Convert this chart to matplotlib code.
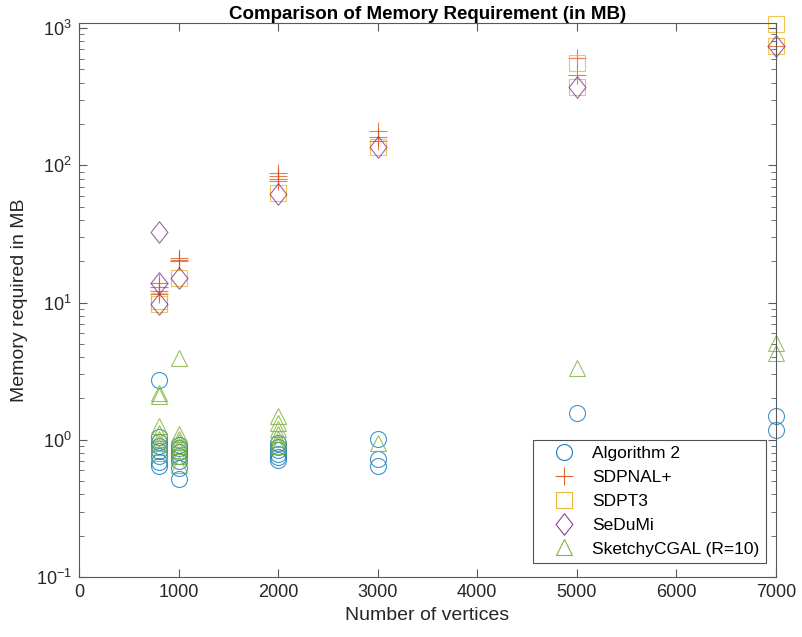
import matplotlib
matplotlib.use("Agg")
import matplotlib.pyplot as plt
from matplotlib.ticker import LogLocator, FixedLocator
from matplotlib.path import Path

plt.rcParams['font.family'] = ['Liberation Sans', 'DejaVu Sans']
plt.rcParams['mathtext.default'] = 'regular'

# ---- data (MB) ----
alg2_x = [800, 800, 800, 800, 800, 800, 800, 800,
          1000, 1000, 1000, 1000, 1000, 1000, 1000,
          2000, 2000, 2000, 2000, 2000, 2000,
          3000, 3000, 3000, 5000, 7000, 7000]
alg2_y = [2.72, 1.05, 0.97, 0.9, 0.83, 0.76, 0.69, 0.64,
          0.92, 0.87, 0.82, 0.76, 0.7, 0.62, 0.52,
          0.95, 0.89, 0.84, 0.79, 0.75, 0.71,
          1.02, 0.72, 0.64, 1.57, 1.5, 1.18]

sdpnal_x = [800, 800, 800, 800, 1000, 1000, 1000,
            2000, 2000, 2000, 2000, 3000, 3000, 3000, 5000, 5000, 7000]
sdpnal_y = [14.0, 13.0, 12.2, 11.5, 21.3, 20.6, 20.0,
            88, 83, 80, 77, 178, 160, 150, 610, 455, 740]

sdpt3_x = [800, 800, 1000, 2000, 3000, 5000, 5000, 7000, 7000]
sdpt3_y = [9.8, 10.3, 15.2, 62.5, 135, 555, 370, 1070, 740]

sedumi_x = [800, 800, 800, 1000, 2000, 3000, 5000, 7000]
sedumi_y = [32.5, 14.0, 9.8, 15.2, 62, 135, 372, 740]

sketchy_x = [800, 800, 800, 800, 800, 800, 800, 800,
             1000, 1000, 1000, 1000, 1000, 1000, 1000, 1000,
             2000, 2000, 2000, 2000, 2000, 2000, 2000,
             3000, 5000, 7000, 7000]
sketchy_y = [2.2, 2.1, 1.25, 1.12, 1.02, 0.95, 0.88, 0.8,
             3.97, 1.1, 1.02, 0.96, 0.9, 0.84, 0.76, 0.66,
             1.48, 1.32, 1.2, 1.1, 1.02, 0.95, 0.9,
             0.94, 3.35, 5.1, 4.3]

x_ticks = [0, 1000, 2000, 3000, 4000, 5000, 6000, 7000]

c_blue = (0.0, 0.447, 0.741)
c_orange = (0.85, 0.325, 0.098)
c_yellow = (0.929, 0.694, 0.125)
c_purple = (0.494, 0.184, 0.556)
c_green = (0.466, 0.674, 0.188)

diamond = Path([(0, 1), (0.78, 0), (0, -1), (-0.78, 0), (0, 1)],
               [Path.MOVETO, Path.LINETO, Path.LINETO, Path.LINETO, Path.CLOSEPOLY])

fig = plt.figure(figsize=(8.03, 6.37), dpi=100)
ax = fig.add_axes([79/803, 1-577/637, (776-79)/803, (577-23)/637])

ms = 11.5
lw = 0.8
common = dict(ls='none', mew=lw, alpha=0.75, clip_on=False)
ax.plot(alg2_x, alg2_y, 'o', mfc='none', mec=c_blue, ms=ms, label='Algorithm 2', **common)
ax.plot(sdpnal_x, sdpnal_y, '+', color=c_orange, ms=ms*1.1, label='SDPNAL+', **common)
ax.plot(sdpt3_x, sdpt3_y, 's', mfc='none', mec=c_yellow, ms=ms*0.95, label='SDPT3', **common)
ax.plot(sedumi_x, sedumi_y, marker=diamond, mfc='none', mec=c_purple, ms=ms*1.35, label='SeDuMi', **common)
ax.plot(sketchy_x, sketchy_y, '^', mfc='none', mec=c_green, ms=ms*1.05, label='SketchyCGAL (R=10)', **common)

ax.set_yscale('log')
ax.set_xlim(0, 7000)
ax.set_ylim(0.1, 1090)
ax.xaxis.set_major_locator(FixedLocator(x_ticks))
ax.yaxis.set_major_locator(LogLocator(base=10, numticks=10))
ax.yaxis.set_minor_locator(LogLocator(base=10, subs=range(2, 10), numticks=20))

gray = (0.15, 0.15, 0.15)
for s in ax.spines.values():
    s.set_color((0.35, 0.35, 0.35))
    s.set_linewidth(0.8)
ax.tick_params(which='both', direction='in', top=True, right=True, color=(0.35, 0.35, 0.35))
ax.tick_params(which='major', length=6, width=0.8, labelsize=13, labelcolor=gray, pad=5)
ax.tick_params(which='minor', length=3.5, width=0.6)

ax.set_xlabel('Number of vertices', fontsize=14, color=gray, labelpad=4)
ax.set_ylabel('Memory required in MB', fontsize=14, color=gray, labelpad=6)
ax.set_title('Comparison of Memory Requirement (in MB)', fontsize=13.5, fontweight='bold', pad=3)

leg = ax.legend(loc='lower right', bbox_to_anchor=(0.985, 0.026), fontsize=12.5,
                frameon=True, fancybox=False, edgecolor=gray, borderpad=0.35,
                labelspacing=0.5, handletextpad=0.25, handlelength=2.8, borderaxespad=0)
leg.get_frame().set_linewidth(0.8)
for h in leg.legend_handles:
    h.set_alpha(0.9)

fig.savefig('out.png', dpi=100)
